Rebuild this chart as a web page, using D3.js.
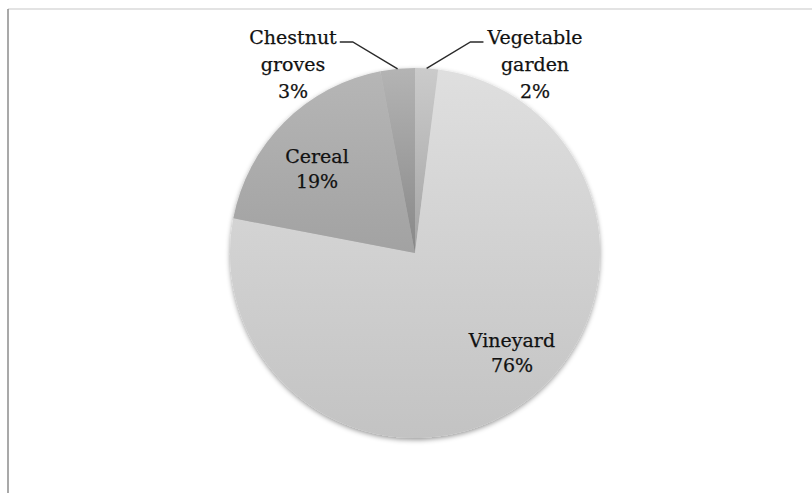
<!DOCTYPE html>
<html>
<head>
<meta charset="utf-8">
<script src="https://cdn.jsdelivr.net/npm/d3@7"></script>
<style>
  html, body { margin: 0; padding: 0; background: #fff; }
  svg { display: block; }
</style>
</head>
<body>
<svg id="chart" width="812" height="493"></svg>
<script>
// Land use shares (percent), in drawing order starting at 12 o'clock, clockwise
const categories = ["Vegetable garden", "Vineyard", "Cereal", "Chestnut groves"];
const values = [2, 76, 19, 3];
const labelLines = [["Vegetable", "garden"], ["Vineyard"], ["Cereal"], ["Chestnut", "groves"]];
const percentLabels = ["2%", "76%", "19%", "3%"];

// Slice gradients: top colour, bottom colour
const gradTop = ["#cbcbcb", "#dfdfdf", "#b6b6b6", "#b4b4b4"];
const gradBottom = ["#a4a4a4", "#c3c3c3", "#a2a2a2", "#888888"];

const svg = d3.select("#chart");
const W = 812, H = 493;
const cx = 415, cy = 253, R = 185;

// frame edges of the chart area
svg.append("line").attr("x1", 8).attr("y1", 9).attr("x2", W).attr("y2", 9)
  .attr("stroke", "#c8c8c8").attr("stroke-width", 1.2);
svg.append("line").attr("x1", 8).attr("y1", 9).attr("x2", 8).attr("y2", H)
  .attr("stroke", "#8c8c8c").attr("stroke-width", 1.5);

const defs = svg.append("defs");
categories.forEach((c, i) => {
  const g = defs.append("linearGradient").attr("id", "g" + i)
    .attr("x1", 0).attr("y1", 0).attr("x2", 0).attr("y2", 1);
  g.append("stop").attr("offset", "0%").attr("stop-color", gradTop[i]);
  g.append("stop").attr("offset", "100%").attr("stop-color", gradBottom[i]);
});
const f = defs.append("filter").attr("id", "shadow")
  .attr("x", "-10%").attr("y", "-10%").attr("width", "120%").attr("height", "120%");
f.append("feDropShadow").attr("dx", 0).attr("dy", 2).attr("stdDeviation", 2.4)
  .attr("flood-color", "#000").attr("flood-opacity", 0.4);

const pie = d3.pie().sort(null).value(d => d);
const arcs = pie(values);
const arc = d3.arc().innerRadius(0).outerRadius(R);

const gPie = svg.append("g").attr("transform", `translate(${cx},${cy})`)
  .attr("filter", "url(#shadow)");
gPie.selectAll("path").data(arcs).join("path")
  .attr("d", arc)
  .attr("fill", (d, i) => `url(#g${i})`);

// label placement: inside labels by position, outside ones with leader lines
const font = "DejaVu Serif";
const labelCfg = [
  { x: 535, y: 44, lh: 27, leader: "right" },
  { x: 512, y: 347, lh: 25 },
  { x: 317, y: 163, lh: 25 },
  { x: 293, y: 44, lh: 27, leader: "left" }
];

arcs.forEach((a, i) => {
  const cfg = labelCfg[i];
  const lines = labelLines[i].concat([percentLabels[i]]);
  const t = svg.append("text")
    .attr("font-family", font).attr("font-size", 19)
    .attr("fill", "#111").attr("stroke", "#111").attr("stroke-width", 0.25)
    .attr("text-anchor", "middle");
  lines.forEach((ln, k) => {
    t.append("tspan").attr("x", cfg.x).attr("y", cfg.y + k * cfg.lh).text(ln);
  });
  if (cfg.leader) {
    const mid = (a.startAngle + a.endAngle) / 2;
    const px = cx + R * Math.sin(mid), py = cy - R * Math.cos(mid);
    const firstW = t.select("tspan").node().getComputedTextLength();
    const yL = cfg.y - 2;
    let pts;
    if (cfg.leader === "left") {
      const x0 = cfg.x + firstW / 2 + 3;
      pts = [[x0, yL], [x0 + 13, yL], [px, py]];
    } else {
      const x0 = cfg.x - firstW / 2 - 4;
      pts = [[x0, yL], [x0 - 13, yL], [px, py]];
    }
    svg.append("path").attr("d", d3.line()(pts))
      .attr("fill", "none").attr("stroke", "#2a2a2a").attr("stroke-width", 1.4);
  }
});
</script>
</body>
</html>
